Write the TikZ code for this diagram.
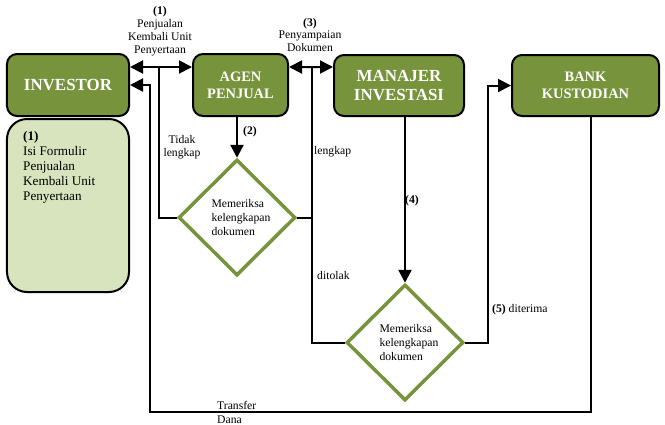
\documentclass[tikz,border=0pt]{standalone}
\usepackage{fontspec}
\setmainfont{Liberation Serif}
\usetikzlibrary{arrows.meta,shapes.geometric}
\definecolor{olivebox}{HTML}{77933C}
\definecolor{lightolive}{HTML}{D7E4BD}
\begin{document}
\begin{tikzpicture}[x=1bp,y=-1bp,
 box/.style={draw=black,line width=2bp,fill=olivebox,rounded corners=10bp,text=white,align=center,inner sep=0},
 dia/.style={diamond,draw=olivebox,line width=3.5bp,fill=white,inner sep=0,align=left,minimum width=117bp,minimum height=116bp,font=\fontsize{11.7}{13.7}\selectfont},
 conn/.style={line width=2bp},
 arr/.style={conn,-{Triangle[length=13bp,width=13bp]}},
 darr/.style={conn,{Triangle[length=13bp,width=13bp]}-{Triangle[length=13bp,width=13bp]}},
 lbl/.style={font=\fontsize{11.7}{13}\selectfont,inner sep=0,align=center},
]
\useasboundingbox (0,0) rectangle (665,424);

% boxes
\node[box,minimum width=122bp,minimum height=62bp,font=\bfseries\fontsize{17}{19}\selectfont] (investor) at (68,85) {INVESTOR};
\node[draw=black,line width=2bp,fill=lightolive,rounded corners=20bp,minimum width=122bp,minimum height=173bp,inner sep=0] (lightbox) at (68,205.5) {};
\node[anchor=north west,inner sep=0,align=left,font=\fontsize{13.2}{15}\selectfont] (lbtext) at (23,131) {\textbf{(1)}\\Isi Formulir\\Penjualan\\Kembali Unit\\Penyertaan};
\node[box,minimum width=95bp,minimum height=62bp,font=\bfseries\fontsize{14.5}{17}\selectfont] (agen) at (240.5,85) {AGEN\\PENJUAL};
\node[box,minimum width=130bp,minimum height=61bp,font=\bfseries\fontsize{17}{19}\selectfont] (manajer) at (399,85.5) {MANAJER\\INVESTASI};
\node[box,minimum width=147bp,minimum height=61bp,font=\bfseries\fontsize{14.5}{17}\selectfont] (bank) at (585.5,85.5) {BANK\\KUSTODIAN};

% diamonds
\node[dia] (d1) at (237,217.5) {\hspace*{8bp}Memeriksa\\\hspace*{8bp}kelengkapan\\\hspace*{8bp}dokumen};
\node[dia] (d2) at (405,342.5) {\hspace*{8bp}Memeriksa\\\hspace*{8bp}kelengkapan\\\hspace*{8bp}dokumen};

% helper coordinates
\coordinate (a1mid) at (159,67);
\coordinate (a3mid) at (311.5,67);
\coordinate (tdL) at (150,412);
\coordinate (c5) at (488,85.5);

% connectors
\draw[darr] ([yshift=18bp]investor.east) -- ([yshift=18bp]agen.west);
\draw[darr] ([yshift=18bp]agen.east) -- ([yshift=18.5bp]manajer.west);
\draw[conn] (d1.west) -| (a1mid);
\draw[arr,line width=2.4bp] (d1.north |- agen.south) -- (d1.north);
\draw[conn] (d1.east) -- (d1.east -| a3mid);
\draw[conn] (a3mid) |- (d2.west);
\draw[arr,line width=2.4bp] (d2.north |- manajer.south) -- (d2.north);
\draw[arr] (d2.east) -| (c5) -- (bank.west);
\draw[arr] ([xshift=5.5bp]bank.south) |- (tdL) |- (investor.east);

% labels
\node[lbl] (l1) at (160,31.5) {\textbf{(1)}\\Penjualan\\Kembali Unit\\Penyertaan};
\node[lbl] (l3) at (310,35) {\textbf{(3)}\\Penyampaian\\Dokumen};
\node[lbl] (ltl) at (182,147) {Tidak\\lengkap};
\node[lbl] (l2) at (250,132) {\textbf{(2)}};
\node[lbl,anchor=west] (llk) at (314,152) {lengkap};
\node[lbl,anchor=west] (ldt) at (317,276) {ditolak};
\node[lbl] (l4) at (412,201) {\textbf{(4)}};
\node[lbl,anchor=west] (l5) at (492,310) {\textbf{(5)} diterima};
\node[lbl,anchor=west,align=left,font=\fontsize{11.7}{14}\selectfont] (ltd) at (217,412) {Transfer\\Dana};
\end{tikzpicture}
\end{document}
